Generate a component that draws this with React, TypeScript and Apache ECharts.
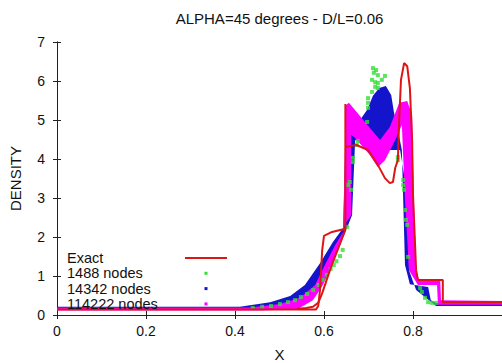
import React, { useEffect, useRef } from "react";
import * as echarts from "echarts";

const FONT = '"Liberation Sans", Arial, Helvetica, sans-serif';

const titleText = "ALPHA=45 degrees - D/L=0.06";
const xTicks = [0, 0.2, 0.4, 0.6, 0.8];
const legendNames = ["Exact", "1488 nodes", "14342 nodes", "114222 nodes"];
const colors = ["#dd1515", "#33dd33", "#1414cc", "#ff00ff"];

// Exact solution: main branch (flat, rise, plateau, vertical jump)
const exactMain: [number, number][] = [
  [0, 0.14], [0.582, 0.14], [0.587, 0.23], [0.591, 0.64], [0.596, 1.67],
  [0.6, 2.03], [0.618, 2.13], [0.648, 2.21], [0.648, 5.41],
];
// Exact solution: lower branch of the rise
const exactLower: [number, number][] = [
  [0.54, 0.16], [0.56, 0.18], [0.575, 0.21], [0.587, 0.31], [0.596, 0.56],
  [0.606, 0.9], [0.618, 1.3], [0.63, 1.65], [0.641, 1.98], [0.648, 2.18],
];
// Exact solution: loop, peak, plateau and right state
const exactLoop: [number, number][] = [
  [0.648, 4.31], [0.673, 4.36], [0.699, 4.23], [0.721, 3.85], [0.737, 3.51],
  [0.748, 3.38], [0.755, 3.41], [0.76, 3.77], [0.766, 3.97], [0.769, 5.0],
  [0.773, 6.03], [0.78, 6.46], [0.787, 6.38], [0.793, 5.82], [0.798, 4.49],
  [0.8, 3.08], [0.807, 1.15], [0.811, 0.9], [0.867, 0.9], [0.867, 0.33],
  [1, 0.33],
];

// 1488 nodes (individual points)
const nodes1488: [number, number][] = [
  [0.44, 0.18], [0.461, 0.21], [0.481, 0.23], [0.501, 0.28], [0.519, 0.33],
  [0.535, 0.38], [0.548, 0.46], [0.562, 0.54], [0.576, 0.64], [0.588, 0.77],
  [0.597, 0.9], [0.606, 1.03], [0.615, 1.18], [0.622, 1.28], [0.628, 1.38],
  [0.636, 1.51], [0.642, 1.67], [0.652, 2.26], [0.654, 3.33], [0.658, 3.41],
  [0.661, 3.21], [0.665, 4.03], [0.665, 3.92], [0.674, 4.36], [0.676, 4.46],
  [0.697, 4.95], [0.699, 5.56], [0.699, 5.44], [0.699, 5.31], [0.708, 5.72],
  [0.715, 5.85], [0.721, 5.82], [0.708, 6.03], [0.715, 5.97], [0.721, 5.95],
  [0.73, 6.03], [0.737, 6.13], [0.71, 6.33], [0.717, 6.28], [0.712, 6.21],
  [0.721, 6.15], [0.766, 4.05], [0.766, 3.97], [0.778, 3.46], [0.778, 3.33],
  [0.78, 3.21], [0.782, 2.69], [0.784, 2.44], [0.787, 2.31], [0.789, 1.49],
  [0.816, 0.69], [0.82, 0.59], [0.827, 0.44], [0.834, 0.33], [0.843, 0.31],
  [0.852, 0.31],
];

// 14342 nodes: outline of the dense point cloud
const nodes14342: [number, number][] = [
  [0, 0.21], [0.411, 0.21], [0.479, 0.33], [0.524, 0.49], [0.557, 0.77],
  [0.591, 1.33], [0.62, 1.87], [0.643, 2.23], [0.649, 4.74], [0.658, 5.0],
  [0.681, 5.0], [0.697, 5.26], [0.71, 5.62], [0.724, 5.82], [0.739, 5.87],
  [0.751, 5.64], [0.757, 5.21], [0.766, 4.74], [0.775, 4.23], [0.778, 2.95],
  [0.782, 1.28], [0.793, 0.79], [0.834, 0.72], [0.84, 0.38], [0.852, 0.31],
  [1, 0.31], [1, 0.23], [0.852, 0.23], [0.807, 0.64], [0.791, 1.15],
  [0.789, 2.95], [0.771, 4.23], [0.737, 4.23], [0.703, 4.36], [0.67, 4.49],
  [0.663, 2.56], [0.636, 1.79], [0.602, 1.03], [0.569, 0.46], [0.524, 0.23],
  [0.456, 0.15], [0, 0.15],
];

// 114222 nodes: outline of the dense point band
const nodes114222: [number, number][] = [
  [0, 0.19], [0.434, 0.19], [0.501, 0.28], [0.546, 0.44], [0.58, 0.77],
  [0.602, 1.28], [0.625, 1.79], [0.643, 2.13], [0.649, 5.38], [0.656, 5.44],
  [0.692, 4.95], [0.726, 4.49], [0.748, 4.82], [0.769, 5.44], [0.787, 5.49],
  [0.798, 5.13], [0.802, 2.95], [0.807, 1.15], [0.813, 0.92], [0.861, 0.92],
  [0.863, 0.38], [1, 0.36], [1, 0.26], [0.856, 0.26], [0.854, 0.77],
  [0.811, 0.77], [0.791, 1.15], [0.782, 2.95], [0.775, 4.87], [0.76, 4.49],
  [0.737, 3.97], [0.721, 3.79], [0.703, 4.1], [0.67, 4.54], [0.661, 4.62],
  [0.661, 2.56], [0.647, 2.33], [0.638, 1.87], [0.616, 1.2], [0.595, 0.72],
  [0.575, 0.38], [0.54, 0.15], [0.456, 0.115], [0, 0.115],
];

function band(name: string, data: [number, number][], color: string) {
  return {
    type: "custom",
    name,
    silent: true,
    clip: true,
    encode: { x: 0, y: 1 },
    data,
    renderItem: (params: any, api: any) => {
      if (params.dataIndex !== 0) return null;
      const pts = data.map((p) => api.coord(p));
      return { type: "polygon", shape: { points: pts }, style: { fill: color } };
    },
  };
}

function redLine(data: [number, number][]) {
  return {
    type: "line",
    name: "Exact",
    data,
    symbol: "none",
    silent: true,
    lineStyle: { color: colors[0], width: 2 },
  };
}

export default function App() {
  const ref = useRef<HTMLDivElement>(null);
  useEffect(() => {
    if (!ref.current) return;
    const chart = echarts.init(ref.current, undefined, { renderer: "svg" });
    const axisLine = { show: true, lineStyle: { color: "#222", width: 1 } };
    const tick = { show: true, inside: true, length: 4, lineStyle: { color: "#222" } };
    const legendY = [258, 273.3, 288.6, 303.9];
    const graphics: any[] = [
      {
        type: "text",
        x: 279.5,
        y: 18,
        style: {
          text: titleText, fill: "#111", font: `15px ${FONT}`,
          textAlign: "center", textVerticalAlign: "middle", align: "center", verticalAlign: "middle",
        },
      },
    ];
    legendNames.forEach((n, i) => {
      graphics.push({
        type: "text",
        x: 67,
        y: legendY[i],
        z: 10,
        style: {
          text: n, fill: "#111", font: `14.5px ${FONT}`, lineHeight: 14,
          textAlign: "left", textVerticalAlign: "middle", align: "left", verticalAlign: "middle",
        },
      });
      if (i === 0) {
        graphics.push({
          type: "line", z: 10,
          shape: { x1: 185, y1: legendY[i], x2: 227, y2: legendY[i] },
          style: { stroke: colors[0], lineWidth: 2 },
        });
      } else {
        graphics.push({
          type: "rect", z: 10,
          shape: { x: 204.5, y: legendY[i] - 1.5, width: 3, height: 3 },
          style: { fill: colors[i] },
        });
      }
    });

    chart.setOption({
      animation: false,
      textStyle: { fontFamily: FONT },
      grid: { left: 57, right: 0, top: 42, bottom: 48, containLabel: false, outerBoundsMode: "none" },
      xAxis: [
        {
          type: "value", min: 0, max: 1, interval: 0.2, position: "bottom",
          axisLine, axisTick: tick, splitLine: { show: false },
          axisLabel: {
            color: "#111", fontSize: 14, margin: 9, fontFamily: FONT,
            formatter: (v: number) => (xTicks.indexOf(Math.round(v * 10) / 10) >= 0 ? String(Math.round(v * 10) / 10) : ""),
          },
          name: "X", nameLocation: "middle", nameGap: 32,
          nameTextStyle: { color: "#111", fontSize: 15, fontFamily: FONT },
        },
        {
          type: "value", min: 0, max: 1, interval: 0.2, position: "top",
          axisLine, axisTick: tick, splitLine: { show: false }, axisLabel: { show: false },
        },
      ],
      yAxis: [
        {
          type: "value", min: 0, max: 7, interval: 1, position: "left",
          axisLine, axisTick: tick, splitLine: { show: false },
          axisLabel: { color: "#111", fontSize: 14, margin: 12, fontFamily: FONT },
          name: "DENSITY", nameLocation: "middle", nameGap: 34, nameRotate: 90,
          nameTextStyle: { color: "#111", fontSize: 15, fontFamily: FONT },
        },
        {
          type: "value", min: 0, max: 7, interval: 1, position: "right",
          axisLine, axisTick: tick, splitLine: { show: false }, axisLabel: { show: false },
        },
      ],
      series: [
        redLine(exactLower),
        band("14342 nodes", nodes14342, colors[2]),
        {
          type: "scatter", name: "1488 nodes", data: nodes1488, symbol: "rect",
          symbolSize: 4, silent: true, itemStyle: { color: colors[1] },
        },
        band("114222 nodes", nodes114222, colors[3]),
        redLine(exactMain),
        redLine(exactLoop),
      ],
      graphic: graphics,
    });
    return () => chart.dispose();
  }, []);
  return (
    <div
      ref={ref}
      style={{ position: "fixed", left: 0, top: 0, width: 502, height: 363, background: "#fff" }}
    />
  );
}
